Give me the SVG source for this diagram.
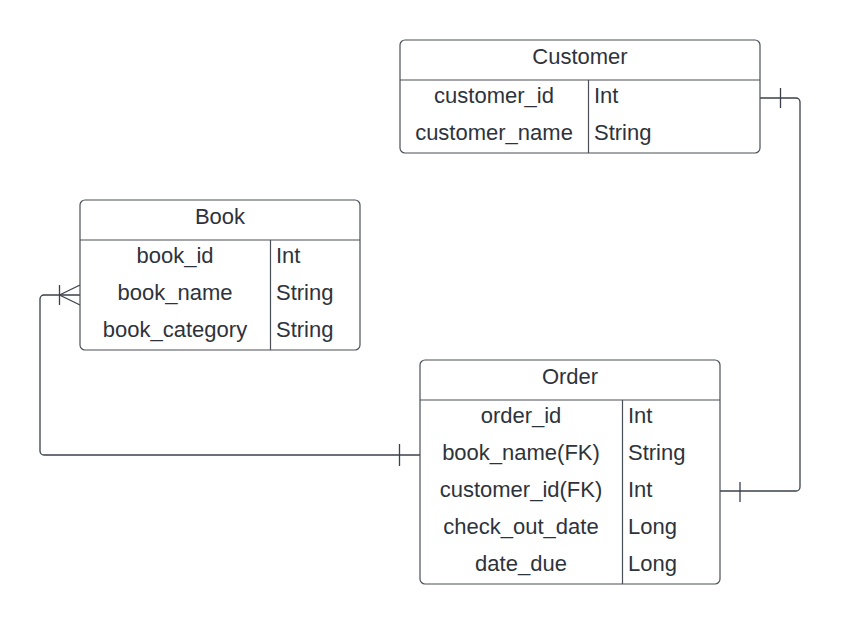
<svg xmlns="http://www.w3.org/2000/svg" width="841" height="625" viewBox="0 0 841 625">
<style>
.box{fill:#fff;stroke:#4a4f57;stroke-width:1.2}
.ln{stroke:#4a4f57;stroke-width:1.2;fill:none}
.con{stroke:#3a414a;stroke-width:1.3;fill:none}
text{font-family:"Liberation Sans",Arial,sans-serif;font-size:22px;fill:#2e333b}
.c{text-anchor:middle}
</style>
<rect width="841" height="625" fill="#fff"/>
<g id="connectors">
<path class="con" d="M760,98 H796 a4,4 0 0 1 4,4 V487 a4,4 0 0 1 -4,4 H720"/>
<path class="con" d="M780.5,88 V108 M740,482 V502"/>
<path class="con" d="M420,455 H44 a4,4 0 0 1 -4,-4 V299 a4,4 0 0 1 4,-4 H80"/>
<path class="con" d="M399.5,444 V466 M59.5,285 V305 M59.5,295 L80,285 M59.5,295 L80,305"/>
</g>
<g id="customer">
<rect class="box" x="400" y="40" width="360" height="113" rx="5"/>
<path class="ln" d="M400,80 H760 M588.5,80 V153"/>
<text class="c" x="580" y="64">Customer</text>
<text class="c" x="494" y="103">customer_id</text>
<text x="594" y="103">Int</text>
<text class="c" x="494" y="140">customer_name</text>
<text x="594" y="140">String</text>
</g>
<g id="book">
<rect class="box" x="80" y="200" width="280" height="150" rx="5"/>
<path class="ln" d="M80,240 H360 M270.5,240 V350"/>
<text class="c" x="220" y="224">Book</text>
<text class="c" x="175" y="263">book_id</text>
<text x="276" y="263">Int</text>
<text class="c" x="175" y="300">book_name</text>
<text x="276" y="300">String</text>
<text class="c" x="175" y="337">book_category</text>
<text x="276" y="337">String</text>
</g>
<g id="order">
<rect class="box" x="420" y="360" width="300" height="224" rx="5"/>
<path class="ln" d="M420,400 H720 M622.5,400 V584"/>
<text class="c" x="570" y="384">Order</text>
<text class="c" x="521" y="423">order_id</text>
<text x="628" y="423">Int</text>
<text class="c" x="521" y="460">book_name(FK)</text>
<text x="628" y="460">String</text>
<text class="c" x="521" y="497">customer_id(FK)</text>
<text x="628" y="497">Int</text>
<text class="c" x="521" y="534">check_out_date</text>
<text x="628" y="534">Long</text>
<text class="c" x="521" y="571">date_due</text>
<text x="628" y="571">Long</text>
</g>
</svg>
